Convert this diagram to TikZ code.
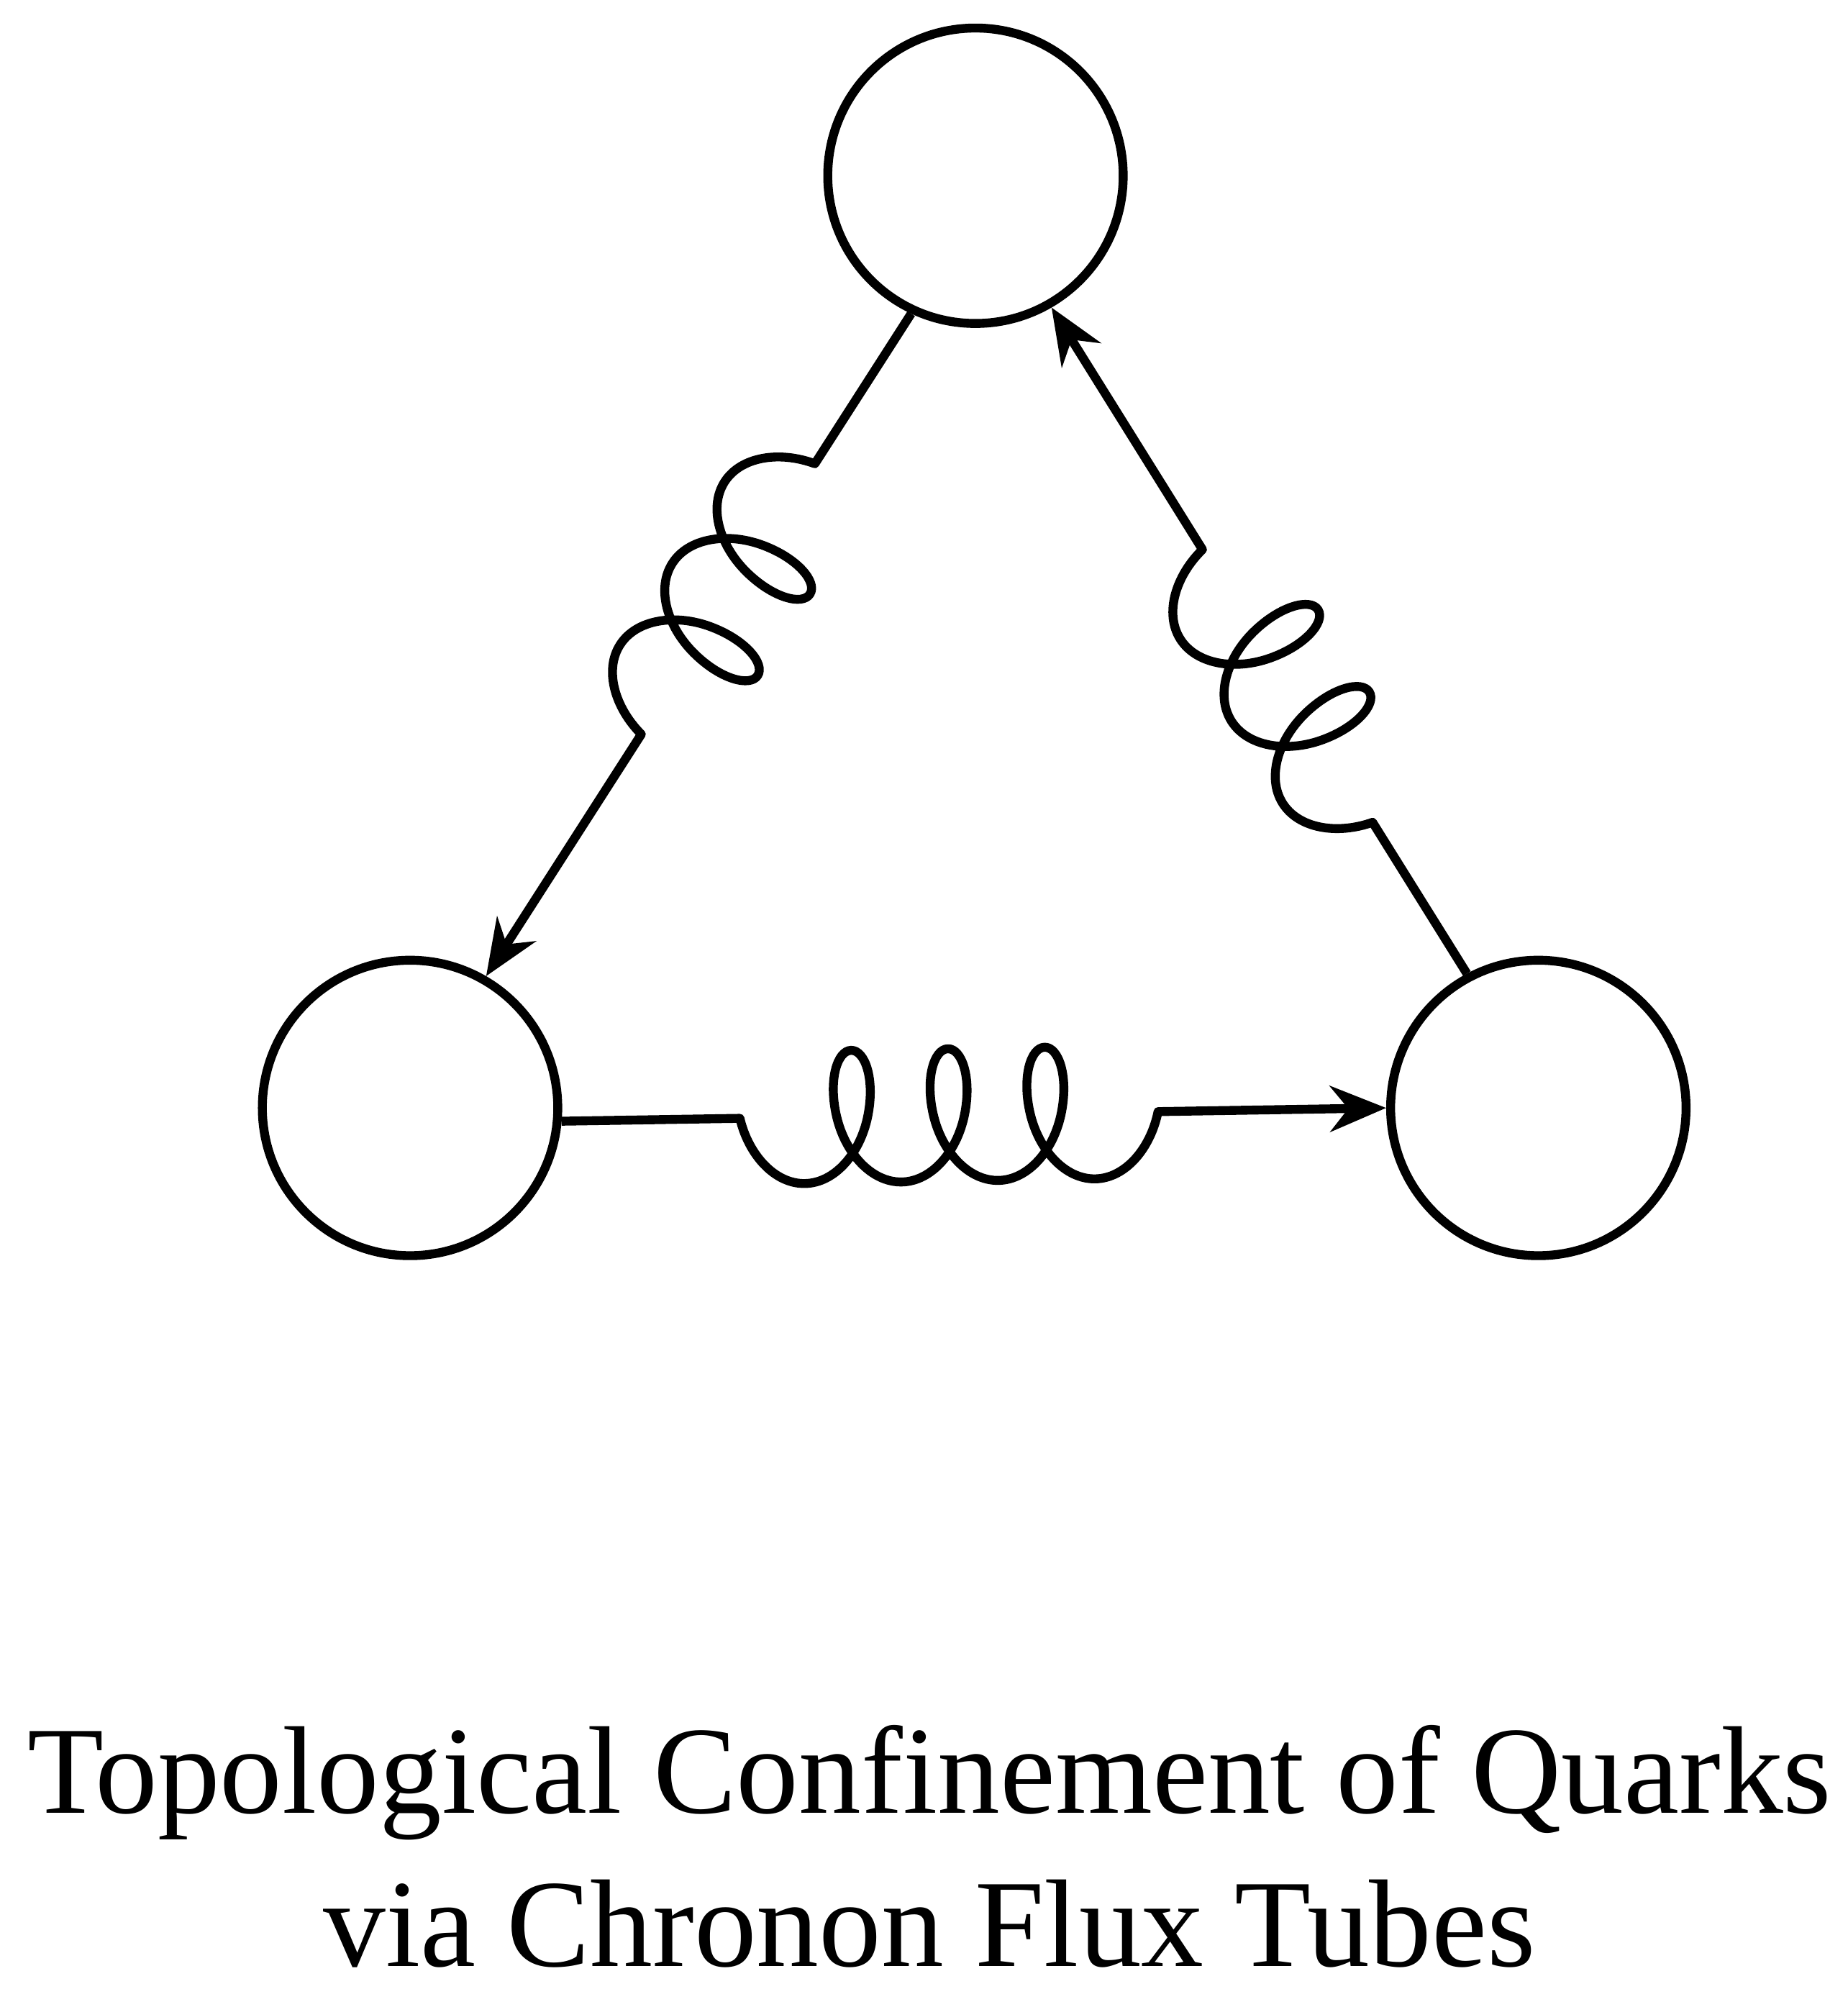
\documentclass[tikz,border=0pt]{standalone}
\usepackage{fontspec}
\setmainfont{Liberation Serif}
\usetikzlibrary{decorations.pathmorphing,arrows.meta}
\begin{document}
\begin{tikzpicture}[x=0.5pt,y=-0.5pt,
  quark/.style={circle,draw,line width=3.5pt,minimum size=116pt,inner sep=0pt},
  gluon/.style={line width=3.5pt,line join=round,decorate,-{Stealth[length=22pt,width=18pt]},
    decoration={coil,amplitude=26pt,segment length=38pt,aspect=0.6,pre length=70pt,post length=75pt}}]
\useasboundingbox (0,0) rectangle (1451,1576);
\node[quark] (T) at (766,138) {};
\node[quark] (L) at (322,870) {};
\node[quark] (R) at (1208,870) {};
\draw[gluon,decoration={mirror}] (L.-5) -- (R.180);
\draw[gluon,decoration={mirror}] (T.-115) -- (L.60);
\draw[gluon] (R.118) -- (T.-60);
\node[font=\fontsize{49}{60}\selectfont,align=center] (title) at (730,1450) {Topological Confinement of Quarks\\via Chronon Flux Tubes};
\end{tikzpicture}
\end{document}
